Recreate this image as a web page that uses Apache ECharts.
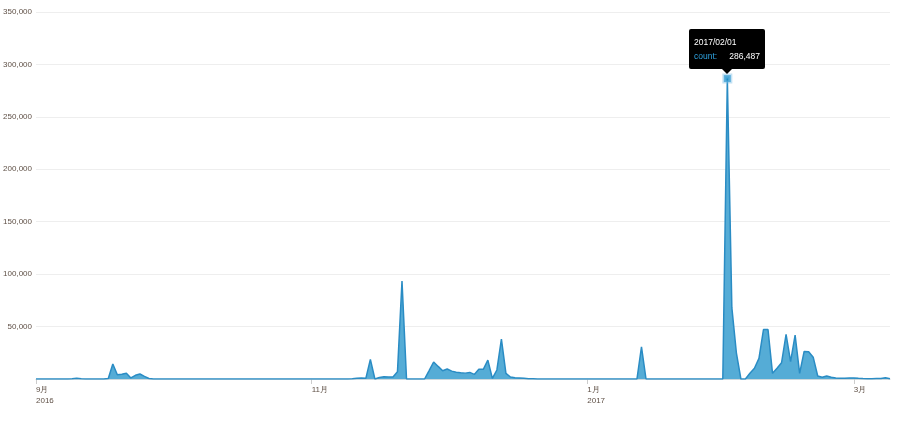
<!DOCTYPE html>
<html>
<head>
<meta charset="utf-8">
<script src="https://cdn.jsdelivr.net/npm/echarts@6/dist/echarts.min.js"></script>
<style>
html,body{margin:0;padding:0;background:#fff;}
#chart{width:899px;height:426px;}
</style>
</head>
<body>
<div id="chart"></div>
<script>
// ---- data ----
var startDate = '2016-09-01';            // first day of the daily series
var seriesName = 'count';
// daily counts, one per day from 2016-09-01 to 2017-03-09
var values = [
  0,0,0,0,0,0,0,0,300,800,                     // Sep 1-10
  200,0,0,0,0,0,500,14300,4000,4500,           // Sep 11-20
  5500,1000,3500,4800,2500,500,0,0,0,0,        // Sep 21-30
  0,0,0,0,0,0,0,0,0,0,                         // Oct 1-10
  0,0,0,0,0,0,0,0,0,0,                         // Oct 11-20
  0,0,0,0,0,0,0,0,0,0,                         // Oct 21-30
  0,0,0,0,0,0,0,0,0,0,                         // Oct 31 - Nov 9
  200,600,900,600,18700,0,1500,2200,2000,2000, // Nov 10-19
  7000,93500,0,0,0,0,0,8000,16200,12000,       // Nov 20-29
  7900,9500,7500,6500,6000,5600,6300,4400,9200,9200, // Nov 30 - Dec 9
  18000,600,8600,38000,5400,1900,1200,900,600,300,   // Dec 10-19
  200,0,0,0,0,0,0,0,0,0,                       // Dec 20-29
  0,0,0,0,0,0,0,0,0,0,                         // Dec 30 - Jan 8
  0,0,0,0,30700,0,0,0,0,0,                     // Jan 9-18
  0,0,0,0,0,0,0,0,0,0,                         // Jan 19-28
  0,0,0,286487,68000,25000,0,0,5400,10200,     // Jan 29 - Feb 7
  19700,47200,47200,5400,10200,15500,42500,16500,41800,5400, // Feb 8-17
  26300,26000,20800,2900,1700,2900,1600,1000,800,700,        // Feb 18-27
  900,1000,600,400,300,300,400,400,1200,200                  // Feb 28 - Mar 9
];
var yTicks = [0, 50000, 100000, 150000, 200000, 250000, 300000, 350000];

// ---- categories (one per day) ----
var dates = [];
(function () {
  var p = startDate.split('-');
  var d = new Date(Date.UTC(+p[0], +p[1] - 1, +p[2]));
  for (var i = 0; i < values.length; i++) {
    var y = d.getUTCFullYear(), m = d.getUTCMonth() + 1, dd = d.getUTCDate();
    dates.push(y + '-' + (m < 10 ? '0' : '') + m + '-' + (dd < 10 ? '0' : '') + dd);
    d.setUTCDate(d.getUTCDate() + 1);
  }
})();

var peakIdx = values.indexOf(Math.max.apply(null, values));

var FONT = "'Liberation Sans Narrow','Liberation Sans',Arial,sans-serif";
var LABEL_COLOR = '#5f5046';

function isMarkDay(idx) {
  var p = dates[idx].split('-');
  return p[2] === '01' && (+p[1]) % 2 === 1;
}

var chart = echarts.init(document.getElementById('chart'), null, {renderer: 'canvas'});
chart.setOption({
  animation: false,
  grid: {left: 36, right: 9, top: 12, bottom: 47, outerBoundsMode: 'none'},
  tooltip: {
    trigger: 'item',
    triggerOn: 'none',
    alwaysShowContent: true,
    transitionDuration: 0,
    backgroundColor: '#000',
    borderColor: '#000',
    borderWidth: 0,
    padding: [6, 5],
    extraCssText: 'box-shadow:none;border-radius:2px;',
    textStyle: {color: '#fff', fontSize: 8, fontFamily: FONT},
    position: function (point, params, dom, rect, size) {
      return [point[0] - size.contentSize[0] / 2, point[1] - size.contentSize[1] - 10];
    },
    formatter: function (p) {
      var d = p.value[0].replace(/-/g, '/');
      var v = Number(p.value[1]).toLocaleString('en-US');
      return '<div style="width:66px;line-height:14px;font-family:' + FONT.replace(/'/g, '&quot;') + ';font-size:8.5px;">' +
        '<div style="color:#fff">' + d + '</div>' +
        '<div><span style="color:#2fa3e0">' + seriesName + ':</span><span style="float:right;color:#fff">' + v + '</span></div>' +
        '</div>' +
        '<div style="position:absolute;left:50%;bottom:-5px;margin-left:-5px;width:0;height:0;border-left:5px solid transparent;border-right:5px solid transparent;border-top:5px solid #000;"></div>';
    }
  },
  xAxis: {
    type: 'category',
    data: dates,
    boundaryGap: false,
    axisLine: {show: true, lineStyle: {color: '#cfd8dc', width: 1}},
    axisTick: {
      show: true,
      length: 5,
      interval: function (idx) { return isMarkDay(idx); },
      lineStyle: {color: '#cccccc'}
    },
    axisLabel: {
      interval: function (idx) { return isMarkDay(idx); },
      align: 'left',
      margin: 5,
      color: LABEL_COLOR,
      fontSize: 8,
      lineHeight: 11,
      fontFamily: FONT,
      formatter: function (val, idx) {
        var p = val.split('-');
        var s = (+p[1]) + '月';
        if (idx === 0 || +p[1] === 1) s += '\n' + p[0];
        return s;
      }
    },
    splitLine: {show: false}
  },
  yAxis: {
    type: 'value',
    min: yTicks[0],
    max: yTicks[yTicks.length - 1],
    interval: yTicks[1] - yTicks[0],
    axisLine: {show: false},
    axisTick: {show: false},
    axisLabel: {
      margin: 4,
      color: LABEL_COLOR,
      fontSize: 8,
      fontFamily: FONT,
      formatter: function (v) { return v === 0 ? '' : v.toLocaleString('en-US'); }
    },
    splitLine: {show: true, lineStyle: {color: '#eeeeee', width: 1}}
  },
  series: [
    {
      name: seriesName,
      type: 'line',
      data: values,
      showSymbol: false,
      symbol: 'none',
      silent: true,
      lineStyle: {color: '#2a8cc4', width: 1.5},
      areaStyle: {color: '#55acd6', opacity: 1},
      z: 2
    },
    {
      name: seriesName,
      type: 'scatter',
      data: [[dates[peakIdx], values[peakIdx]]],
      symbol: 'rect',
      symbolSize: 7,
      itemStyle: {color: '#1b8ec9', borderColor: 'rgba(120,190,230,0.55)', borderWidth: 3},
      emphasis: {disabled: true},
      z: 5
    }
  ]
});
chart.dispatchAction({type: 'showTip', seriesIndex: 1, dataIndex: 0});
</script>
</body>
</html>
